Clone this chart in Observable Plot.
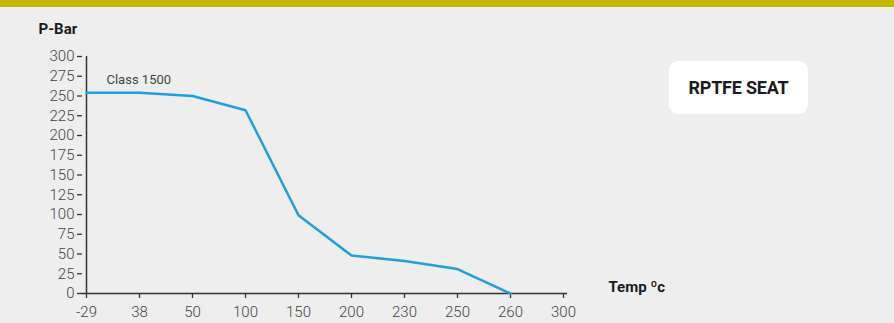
<!DOCTYPE html>
<html>
<head>
<meta charset="utf-8">
<script src="https://cdn.jsdelivr.net/npm/d3@7"></script>
<script src="https://cdn.jsdelivr.net/npm/@observablehq/plot@0.6"></script>
<style>
  html, body { margin: 0; padding: 0; background: #eeeeee; }
  #wrap { position: relative; width: 894px; height: 323px; overflow: hidden; background: #eeeeee; }
  #bar { position: absolute; left: 0; top: 0; width: 894px; height: 7px; background: #c4b800; }
  #chart { position: absolute; left: 0; top: 0; }
  #badge { position: absolute; left: 669px; top: 61px; width: 139px; height: 53px; background: #ffffff;
    border-radius: 9px; display: flex; align-items: center; justify-content: center;
    font-family: Roboto, sans-serif; font-weight: bold; font-size: 18px; letter-spacing: -0.2px; color: #1a1a22; }
</style>
</head>
<body>
<div id="wrap">
  <div id="chart"></div>
  <div id="bar"></div>
  <div id="badge">RPTFE SEAT</div>
</div>
<script>
const xTicks = ["-29", "38", "50", "100", "150", "200", "230", "250", "260", "300"];
const temps = ["-29", "38", "50", "100", "150", "200", "230", "250", "260"];
const pressure = [254, 254, 250, 232, 99, 48, 41, 31, 0];
const yTicks = [0, 25, 50, 75, 100, 125, 150, 175, 200, 225, 250, 275, 300];
const seriesLabel = "Class 1500";
const yLabel = "P-Bar";
const xLabel = "Temp ºc";

const data = temps.map((t, i) => ({temp: t, p: pressure[i]}));

const chart = Plot.plot({
  width: 894,
  height: 323,
  marginLeft: 82,
  marginRight: 327,
  marginTop: 56,
  marginBottom: 30,
  style: {background: "transparent", fontFamily: "Roboto, sans-serif", fontSize: "15px", color: "#444"},
  x: {type: "point", domain: xTicks, padding: 0, range: [82, 567], label: null},
  y: {domain: [0, 300], range: [293, 56], label: null},
  marks: [
    Plot.axisY({ticks: yTicks, tickSize: 5, tickPadding: 3, stroke: "#333", strokeWidth: 1.3, fill: "#444", fontSize: 15, fontWeight: 300}),
    Plot.axisX({ticks: xTicks, tickSize: 5, tickPadding: 8, stroke: "#333", strokeWidth: 1.3, fill: "#444", fontSize: 15, fontWeight: 300}),
    Plot.ruleY([0], {stroke: "#333", strokeWidth: 1.5}),
    Plot.ruleX([xTicks[0]], {stroke: "#333", strokeWidth: 1.5}),
    Plot.line(data, {x: "temp", y: "p", stroke: "#1e9fdc", strokeWidth: 2.5}),
    Plot.text([seriesLabel], {x: () => xTicks[0], y: () => 275, dx: 20, dy: 4, textAnchor: "start", fill: "#444", fontSize: 13}),
    Plot.text([yLabel], {frameAnchor: "top-left", dx: -44, dy: -33, textAnchor: "start", fontWeight: "bold", fill: "#1a1a22", fontSize: 15}),
    Plot.text([xLabel], {x: () => xTicks[xTicks.length - 1], y: () => 0, dx: 45, dy: -6, textAnchor: "start", fontWeight: "bold", fill: "#1a1a22", fontSize: 15})
  ]
});
document.getElementById("chart").appendChild(chart);
</script>
</body>
</html>
